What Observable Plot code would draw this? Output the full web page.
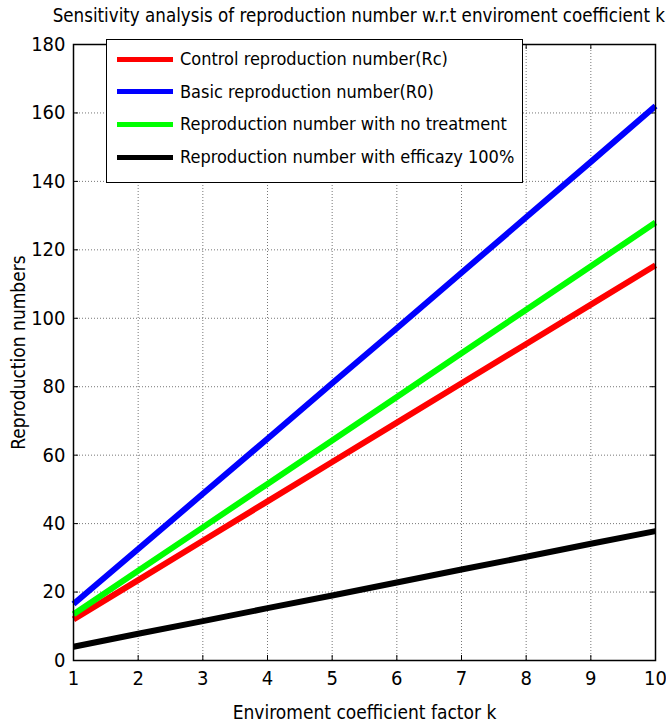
<!DOCTYPE html>
<html><head><meta charset="utf-8">
<script src="https://cdn.jsdelivr.net/npm/d3@7"></script>
<script src="https://cdn.jsdelivr.net/npm/@observablehq/plot@0.6"></script>
<style>
body{margin:0;background:#fff;font-family:"Liberation Sans Narrow","DejaVu Sans Condensed",Arial,sans-serif;}
#wrap{position:relative;width:666px;height:725px;}
#title{position:absolute;left:0;width:666px;top:5px;text-align:right;padding-right:1px;box-sizing:border-box;font-size:18.6px;white-space:nowrap;color:#000;}
#legend{position:absolute;left:106px;top:39px;width:417px;height:144px;border:1px solid #000;background:#fff;box-sizing:border-box;}
.row{position:absolute;left:10px;height:20px;font-size:18px;line-height:20px;white-space:nowrap;}
.sw{display:inline-block;width:56px;height:5px;vertical-align:middle;margin-right:7px;position:relative;top:-1px;}
</style></head>
<body>
<div id="wrap">
<div id="chart"></div>
<div id="title"></div>
<div id="legend"></div>
</div>
<script>
const k = [1,2,3,4,5,6,7,8,9,10];
const Rc = [12,23.5,35,46.5,58,69.5,81,92.5,104,115.5];
const R0 = [16.5,32.6,48.7,64.8,81,97.1,113.3,129.5,145.7,162];
const noTreatment = [13.5,26.2,38.9,51.6,64.3,77,89.8,102.5,115.2,128];
const efficacy100 = [4,7.8,11.5,15.3,19,22.8,26.6,30.3,34.1,37.8];
const seriesNames = ["Control reproduction number(Rc)","Basic reproduction number(R0)","Reproduction number with no treatment","Reproduction number with efficazy 100%"];
const seriesColors = ["#ff0000","#0000ff","#00ff00","#000000"];
const xTicks = [1,2,3,4,5,6,7,8,9,10];
const yTicks = [0,20,40,60,80,100,120,140,160,180];
const titleText = "Sensitivity analysis of reproduction number w.r.t enviroment coefficient k";
const xLabel = "Enviroment coefficient factor k";
const yLabel = "Reproduction numbers";

const allSeries = [Rc, R0, noTreatment, efficacy100];
const data = [];
allSeries.forEach((s,i)=>s.forEach((v,j)=>data.push({k:k[j], v, s:seriesNames[i]})));

const W=666,H=725,mT=44,mB=65,mL=73,mR=11;
const fh = H-mT-mB, fw = W-mL-mR;
const font = '"Liberation Sans Narrow","DejaVu Sans Condensed",Arial,sans-serif';

const chart = Plot.plot({
  width: W, height: H,
  marginTop: mT, marginBottom: mB, marginLeft: mL, marginRight: mR,
  style: {fontFamily: font, fontSize: "18px", color: "#000", background: "#fff"},
  x: {domain: [1,10]},
  y: {domain: [0,180]},
  color: {domain: seriesNames, range: seriesColors},
  marks: [
    Plot.gridX(xTicks, {stroke: "#777", strokeOpacity: 1, strokeDasharray: "1,2"}),
    Plot.gridY(yTicks, {stroke: "#777", strokeOpacity: 1, strokeDasharray: "1,2"}),
    Plot.tickX(xTicks, {x: d=>d, insetTop: fh-5, stroke: "#000"}),
    Plot.tickX(xTicks, {x: d=>d, insetBottom: fh-5, stroke: "#000"}),
    Plot.tickY(yTicks, {y: d=>d, insetRight: fw-5, stroke: "#000"}),
    Plot.tickY(yTicks, {y: d=>d, insetLeft: fw-5, stroke: "#000"}),
    Plot.lineY(data, {x: "k", y: "v", z: "s", stroke: "s", strokeWidth: 6, strokeLinecap: "butt"}),
    Plot.frame({stroke: "#000", strokeWidth: 1.5}),
    Plot.axisX(xTicks, {tickSize: 0, tickPadding: 10, fontSize: 20, label: null}),
    Plot.axisY(yTicks, {tickSize: 0, tickPadding: 8, fontSize: 20, label: null}),
    Plot.axisX({ticks: [], label: xLabel, labelAnchor: "center", labelArrow: "none", labelOffset: 58, fontSize: 19}),
    Plot.axisY({ticks: [], label: yLabel, labelAnchor: "center", labelArrow: "none", labelOffset: 62, fontSize: 19})
  ]
});
document.getElementById("chart").appendChild(chart);
document.getElementById("title").textContent = titleText;
const leg = document.getElementById("legend");
seriesNames.forEach((n,i)=>{
  const r = document.createElement("div");
  r.className="row";
  r.style.top = (9 + i*32.7) + "px";
  r.innerHTML = `<span class="sw" style="background:${seriesColors[i]}"></span>`;
  r.appendChild(document.createTextNode(n));
  leg.appendChild(r);
});
</script>
</body></html>
